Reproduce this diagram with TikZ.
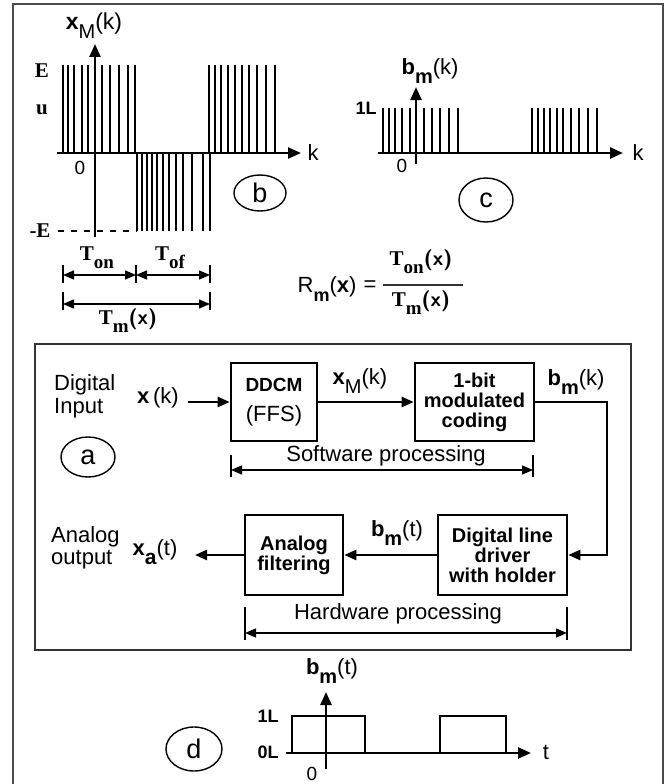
\documentclass[tikz,border=0pt]{standalone}
\usepackage{fontspec}
\setmainfont{Liberation Sans}
\newfontfamily\seriffont{Liberation Serif}
\usetikzlibrary{arrows.meta,shapes.geometric}
\newcommand{\fsz}[1]{\fontsize{#1}{#1}\selectfont}
\newcommand{\lowsub}[2]{\raisebox{-0.38em}{\fsz{#1}#2}}
\begin{document}
\begin{tikzpicture}[x=1pt,y=-1pt,
  axis/.style={line width=2.4pt,-{Triangle[length=13pt,width=11pt]}},
  bar/.style={line width=1.1pt},
  blk/.style={draw,line width=2.6pt,align=center,inner sep=0pt,font=\bfseries\fsz{20}},
  conn/.style={line width=2.4pt,-{Triangle[length=12pt,width=10pt]}},
  dimarr/.style={line width=1.4pt,{Triangle[length=11pt,width=9pt]}-{Triangle[length=11pt,width=9pt]}},
  tickln/.style={line width=1.2pt},
  tag/.style={draw,ellipse,line width=1.4pt,inner sep=0pt,font=\fsz{27}},
  lbl/.style={inner sep=0pt,font=\fsz{22}},
  slbl/.style={inner sep=0pt,font=\seriffont\bfseries\fsz{21}}]
\useasboundingbox (0,0) rectangle (666,784);
% outer frame
\draw[line width=2pt,black!70] (13,790) -- (13,4) -- (663,4) -- (663,790);
% ---------------- panel b ----------------
\foreach \x in {63,68,74,82,88,102,110,119,128,135,209,215,221,228,235,242,249,257,266,275}
  \draw[bar] (\x,65) -- (\x,153);
\foreach \x in {137,142,147,152,157,163,169,176,183,192,203,210}
  \draw[bar] (\x,153) -- (\x,231);
\coordinate (bxl) at (57,153);
\coordinate (bxr) at (301,153);
\coordinate (byb) at (95,237);
\coordinate (byt) at (95,44);
\draw[axis] (bxl) -- (bxr);
\draw[axis] (byb) -- (byt);
\coordinate (dl) at (58,231);
\coordinate (dr) at (137,231);
\draw[line width=1.2pt,dash pattern=on 6pt off 7pt] (dl) -- (dr);
\node[slbl] (lE) at (42,71) {E};
\node[slbl] (lu) at (42,110) {u};
\node[slbl] (lmE) at (40,231) {-E};
\node[lbl,font=\fsz{19}] (l0b) at (80,168) {0};
\node[lbl] (lkb) at (313,153) {k};
\node[lbl,font=\fsz{23}] (lxm) at (94,26) {\textbf{x}\lowsub{20}{M}(k)};
\node[tag,minimum width=52pt,minimum height=36pt] (tb) at (260,193) {b};
% dimension arrows
\coordinate (t1a) at (63,265); \coordinate (t1b) at (63,283);
\coordinate (t2a) at (136,265); \coordinate (t2b) at (136,283);
\coordinate (t3a) at (210,265); \coordinate (t3b) at (210,283);
\draw[tickln] (t1a) -- (t1b); \draw[tickln] (t2a) -- (t2b); \draw[tickln] (t3a) -- (t3b);
\coordinate (r1a) at (63,275); \coordinate (r1b) at (136,275); \coordinate (r1c) at (210,275);
\draw[dimarr] (r1a) -- (r1b);
\draw[dimarr] (r1b) -- (r1c);
\coordinate (u1a) at (63,292); \coordinate (u1b) at (63,310);
\coordinate (u2a) at (210,292); \coordinate (u2b) at (210,310);
\draw[tickln] (u1a) -- (u1b); \draw[tickln] (u2a) -- (u2b);
\coordinate (r2a) at (63,304); \coordinate (r2b) at (210,304);
\draw[dimarr] (r2a) -- (r2b);
\node[slbl] (lton) at (97,258) {T\lowsub{19}{on}};
\node[slbl] (ltof) at (170,258) {T\lowsub{19}{of}};
\node[slbl] (ltm) at (128,321) {T\lowsub{19}{m}{\sffamily\fsz{21}(\textbf{x})}};
% fraction
\node[lbl] (lrm) at (327,289) {R\lowsub{18}{\textbf{m}}(\textbf{x})};
\node[lbl] (leq) at (370,286) {=};
\coordinate (fa) at (383,285); \coordinate (fb) at (463,285);
\draw[line width=1.3pt,black!80] (fa) -- (fb);
\node[slbl] (lnum) at (421,262) {T\lowsub{19}{on}{\sffamily\fsz{21}(\textbf{x})}};
\node[slbl] (lden) at (421,303) {T\lowsub{19}{m}{\sffamily\fsz{21}(\textbf{x})}};
% ---------------- panel c ----------------
\foreach \x in {383,389,395,402,410,424,432,440,449,458,532,538,544,550,557,563,571,579,588,597}
  \draw[bar] (\x,108) -- (\x,153);
\coordinate (cxl) at (378,153);
\coordinate (cxr) at (623,153);
\coordinate (cyb) at (416,164);
\coordinate (cyt) at (416,87);
\draw[axis] (cxl) -- (cxr);
\draw[axis] (cyb) -- (cyt);
\node[lbl,font=\bfseries\fsz{18}] (l1Lc) at (366,108) {1L};
\node[lbl,font=\fsz{19}] (l0c) at (402,166) {0};
\node[lbl] (lkc) at (638,153) {k};
\node[lbl] (lbmk) at (430,71) {\textbf{b}\lowsub{20}{\textbf{m}}(k)};
\node[tag,minimum width=54pt,minimum height=44pt] (tc) at (486,200) {c};
% ---------------- panel a ----------------
\draw[line width=2pt,black!80] (35,344) rectangle (631,650);
\node[blk,minimum width=86pt,minimum height=78pt] (ddcm) at (274,402)
  {{\fsz{19}DDCM}\\[10pt]{\mdseries\fsz{22}(FFS)}};
\node[blk,minimum width=119pt,minimum height=78pt] (coding) at (474.5,402)
  {\fontsize{20}{21.5}\selectfont 1-bit\\modulated\\coding};
\node[blk,minimum width=98pt,minimum height=80pt] (filter) at (294,555)
  {\fontsize{20}{22}\selectfont Analog\\filtering};
\node[blk,minimum width=129pt,minimum height=80pt] (driver) at (502.5,555)
  {\fontsize{20}{22}\selectfont Digital line\\driver\\with holder};
\node[lbl,align=left,anchor=west,font=\fontsize{22}{23}\selectfont] (din) at (54,396) {Digital\\Input};
\node[lbl] (lxk) at (158,398) {\textbf{x}\,(k)};
\node[lbl] (lxmk) at (360,381) {\textbf{x}\lowsub{20}{M}(k)};
\node[lbl] (lbmk2) at (576,382) {\textbf{b}\lowsub{20}{\textbf{m}}(k)};
\node[lbl,align=left,anchor=west,font=\fontsize{22}{22}\selectfont] (aout) at (51,548) {Analog\\output};
\node[lbl] (lxa) at (155,552) {\textbf{x}\lowsub{21}{\textbf{a}}(t)};
\node[lbl] (lbmt) at (397,533) {\textbf{b}\lowsub{20}{\textbf{m}}(t)};
\node[tag,minimum width=54pt,minimum height=40pt] (ta) at (88,457) {a};
\coordinate (xin) at (188,402);
\coordinate (turn) at (607,402);
\coordinate (xout) at (195,555);
\draw[conn] (xin) -- (ddcm.west);
\draw[conn] (ddcm.east) -- (coding.west);
\draw[conn] (coding.east) -- (turn) |- (driver.east);
\draw[conn] (driver.west) -- (filter.east);
\draw[conn] (filter.west) -- (xout);
% software / hardware spans
\coordinate (s1a) at (231,455); \coordinate (s1b) at (231,477);
\coordinate (s2a) at (533,455); \coordinate (s2b) at (533,477);
\draw[tickln] (s1a) -- (s1b); \draw[tickln] (s2a) -- (s2b);
\coordinate (sa) at (231,470); \coordinate (sb) at (533,470);
\draw[dimarr] (sa) -- (sb);
\node[lbl,font=\fsz{22}] (lsw) at (386,456) {Software processing};
\coordinate (h1a) at (245,607); \coordinate (h1b) at (245,640);
\coordinate (h2a) at (567,607); \coordinate (h2b) at (567,640);
\draw[tickln] (h1a) -- (h1b); \draw[tickln] (h2a) -- (h2b);
\coordinate (ha) at (245,633); \coordinate (hb) at (567,633);
\draw[dimarr] (ha) -- (hb);
\node[lbl,font=\fsz{22}] (lhw) at (398,614) {Hardware processing};
% ---------------- panel d ----------------
\draw[line width=1.3pt] (292,753) -- (292,716) -- (365,716) -- (365,753);
\draw[line width=1.3pt] (440,753) -- (440,716) -- (506,716) -- (506,753);
\coordinate (dxl) at (286,753);
\coordinate (dxr) at (531,753);
\coordinate (dyb) at (326,769);
\coordinate (dyt) at (326,692);
\draw[axis] (dxl) -- (dxr);
\draw[axis] (dyb) -- (dyt);
\node[lbl,font=\bfseries\fsz{18}] (l1Ld) at (268,716) {1L};
\node[lbl,font=\bfseries\fsz{18}] (l0Ld) at (268,752) {0L};
\node[lbl,font=\fsz{19}] (l0d) at (312,774) {0};
\node[lbl] (ltd) at (546,752) {t};
\node[lbl] (lbmtd) at (332,671) {\textbf{b}\lowsub{20}{\textbf{m}}(t)};
\node[tag,minimum width=56pt,minimum height=44pt] (td) at (194,749) {d};
\end{tikzpicture}
\end{document}
